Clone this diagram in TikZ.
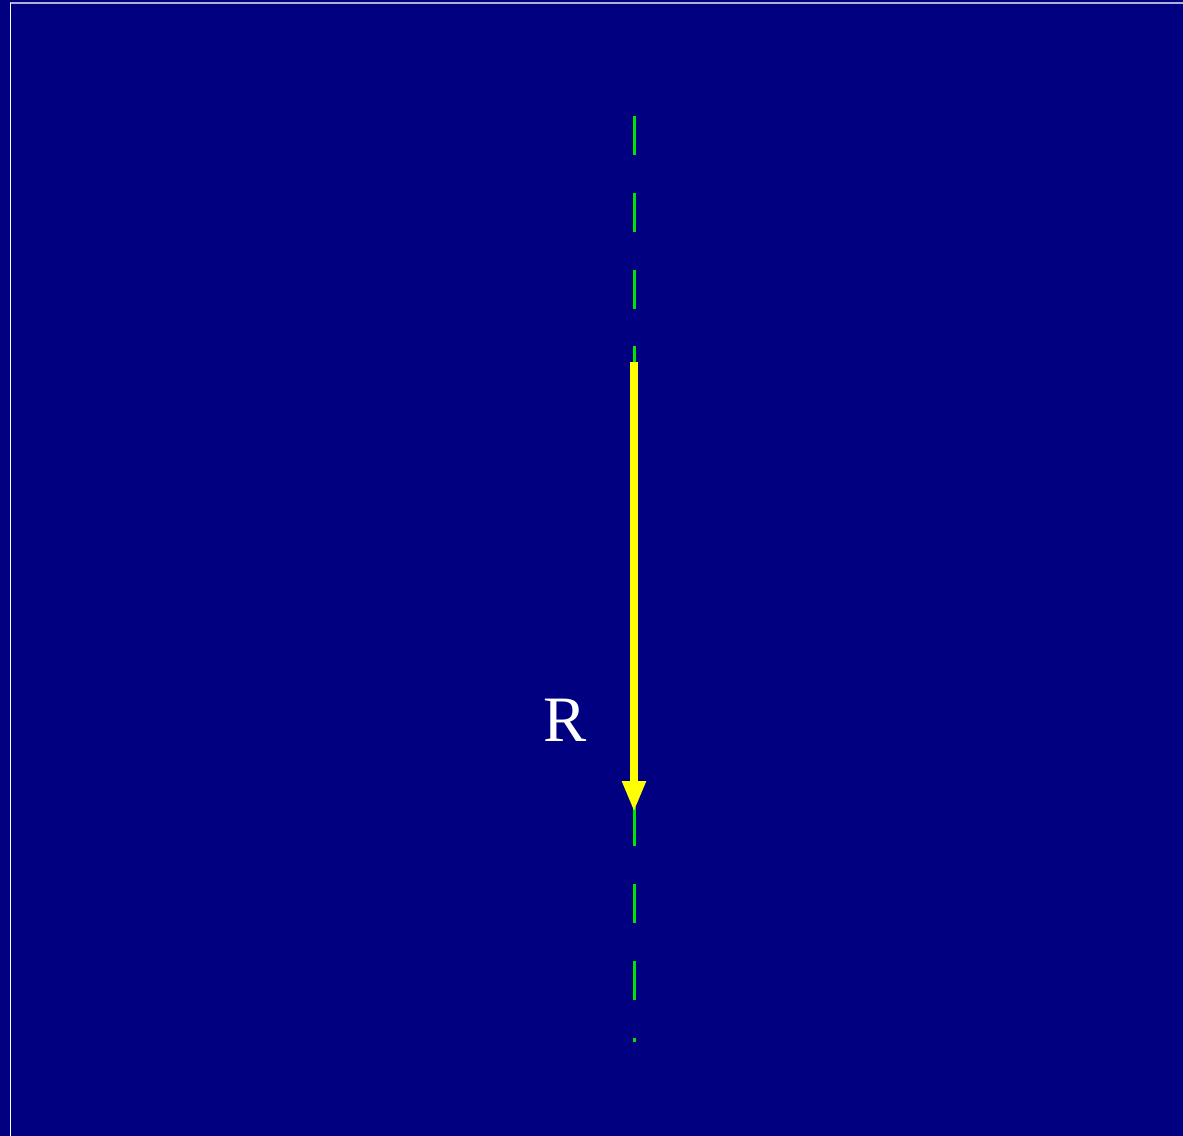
\documentclass[tikz,border=0pt]{standalone}
\usepackage{fontspec}
\setmainfont{Liberation Serif}
\usetikzlibrary{arrows.meta}
\definecolor{bgnavy}{RGB}{0,0,128}
\definecolor{axisgreen}{RGB}{0,230,0}
\definecolor{arrowyellow}{RGB}{255,255,0}
\definecolor{framelav}{RGB}{175,175,215}
\tikzset{
  axisline/.style={axisgreen, line width=3bp, dash pattern=on 39bp off 37.83bp},
  forcearrow/.style={arrowyellow, line width=8bp, -{Triangle[length=31bp,width=22bp]}},
  forcelabel/.style={text=white, inner sep=0pt, font=\fontsize{65}{78}\selectfont},
}
\begin{document}
\begin{tikzpicture}[x=1bp,y=-1bp]
\useasboundingbox (0,0) rectangle (1183,1136);
\fill[bgnavy] (0,0) rectangle (1183,1136);
% frame
\draw[framelav, line width=1.5bp] (10,3) -- (1183,3);
\draw[white, line width=1.2bp] (10.5,2.5) -- (10.5,1136);
% axis
\coordinate (axtop) at (634.5,116);
\coordinate (axbot) at (634.5,1042);
\draw[axisline] (axtop) -- (axbot);
% force arrow
\coordinate (rstart) at (634,362);
\coordinate (rend) at (634,812);
\draw[forcearrow] (rstart) -- (rend);
\node[forcelabel] (rlabel) at (565,720.5) {R};
\end{tikzpicture}
\end{document}
